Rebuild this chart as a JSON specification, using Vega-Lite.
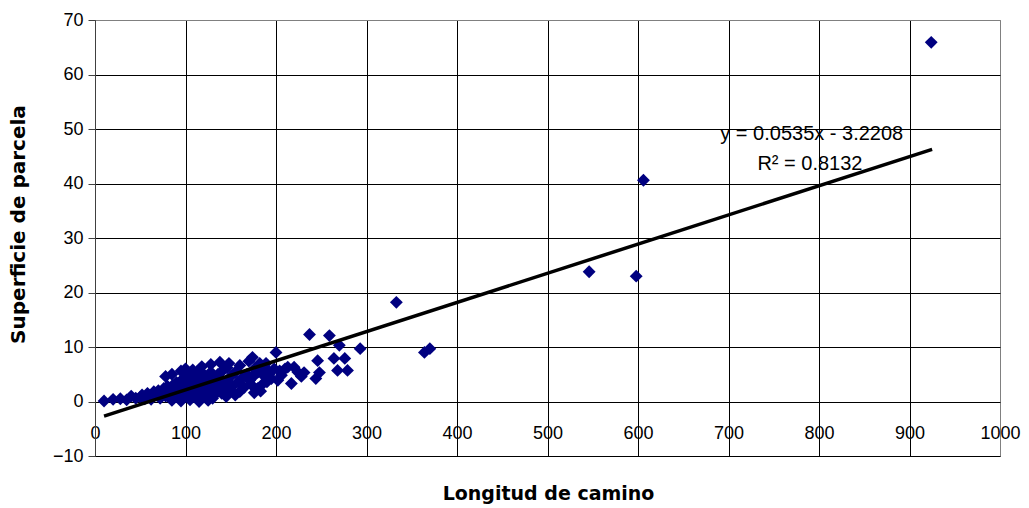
{
  "$schema": "https://vega.github.io/schema/vega-lite/v6.json",
  "width": 905,
  "height": 436,
  "autosize": "none",
  "padding": {"left": 95, "top": 20, "right": 29, "bottom": 52},
  "background": "white",
  "config": {
    "view": {"stroke": "#808080", "strokeWidth": 1},
    "font": "Liberation Sans",
    "axis": {"gridColor": "black", "gridOpacity": 1, "gridWidth": 1, "labelFont": "Liberation Sans", "titleFont": "DejaVu Sans", "labelColor": "black", "titleColor": "black", "labelFontSize": 18, "titleFontSize": 18, "titleFontWeight": "bold"}
  },
  "datasets": {
    "pts": [
      {"x":10,"y":0.1},{"x":20,"y":0.4},{"x":28,"y":0.5},{"x":35,"y":0.3},{"x":40,"y":1.0},{"x":45,"y":0.6},{"x":50,"y":0.8},{"x":52,"y":1.2},{"x":55,"y":0.5},{"x":58,"y":1.5},{"x":60,"y":1.0},{"x":62,"y":0.4},{"x":65,"y":1.8},{"x":68,"y":1.2},{"x":70,"y":2.0},{"x":72,"y":0.6},{"x":74,"y":1.5},{"x":76,"y":2.4},{"x":78,"y":1.0},{"x":78,"y":4.6},{"x":80,"y":2.8},{"x":82,"y":1.6},{"x":84,"y":0.8},{"x":85,"y":5.0},{"x":85,"y":0.2},{"x":86,"y":3.0},{"x":88,"y":2.2},{"x":90,"y":3.5},{"x":90,"y":1.2},{"x":92,"y":2.6},{"x":94,"y":0.9},{"x":95,"y":3.8},{"x":95,"y":5.6},{"x":95,"y":0.1},{"x":96,"y":2.0},{"x":98,"y":4.2},{"x":100,"y":1.5},{"x":100,"y":3.0},{"x":100,"y":6.0},{"x":102,"y":4.8},{"x":103,"y":0.8},{"x":104,"y":2.4},{"x":105,"y":5.2},{"x":105,"y":0.3},{"x":106,"y":3.6},{"x":108,"y":1.8},{"x":108,"y":5.8},{"x":110,"y":4.5},{"x":110,"y":1.0},{"x":112,"y":2.8},{"x":114,"y":5.5},{"x":115,"y":3.4},{"x":115,"y":0.0},{"x":116,"y":1.4},{"x":118,"y":4.0},{"x":118,"y":6.4},{"x":120,"y":2.2},{"x":120,"y":5.0},{"x":122,"y":0.8},{"x":124,"y":3.2},{"x":125,"y":4.6},{"x":125,"y":0.2},{"x":126,"y":1.6},{"x":128,"y":5.4},{"x":128,"y":6.8},{"x":130,"y":2.6},{"x":130,"y":3.8},{"x":130,"y":0.6},{"x":132,"y":1.2},{"x":134,"y":4.4},{"x":135,"y":2.0},{"x":136,"y":5.0},{"x":138,"y":3.0},{"x":138,"y":7.2},{"x":140,"y":1.5},{"x":140,"y":4.0},{"x":142,"y":5.8},{"x":144,"y":2.4},{"x":145,"y":3.6},{"x":145,"y":0.9},{"x":146,"y":6.2},{"x":148,"y":1.8},{"x":148,"y":7.0},{"x":150,"y":4.6},{"x":152,"y":2.8},{"x":155,"y":5.4},{"x":155,"y":1.2},{"x":158,"y":3.6},{"x":160,"y":6.6},{"x":160,"y":1.8},{"x":162,"y":4.2},{"x":165,"y":2.6},{"x":168,"y":5.0},{"x":170,"y":7.4},{"x":171,"y":3.9},{"x":172,"y":3.2},{"x":174,"y":8.1},{"x":175,"y":4.6},{"x":176,"y":6.0},{"x":176,"y":1.6},{"x":178,"y":2.2},{"x":180,"y":5.4},{"x":180,"y":2.4},{"x":182,"y":7.0},{"x":183,"y":1.9},{"x":184,"y":3.0},{"x":186,"y":4.8},{"x":188,"y":6.2},{"x":189,"y":7.0},{"x":190,"y":3.6},{"x":192,"y":5.0},{"x":195,"y":4.2},{"x":198,"y":6.0},{"x":200,"y":9.0},{"x":202,"y":3.9},{"x":204,"y":5.6},{"x":206,"y":4.8},{"x":210,"y":6.0},{"x":213,"y":6.3},{"x":217,"y":3.3},{"x":220,"y":6.3},{"x":224,"y":5.4},{"x":228,"y":4.6},{"x":231,"y":5.3},{"x":237,"y":12.3},{"x":244,"y":4.2},{"x":246,"y":7.5},{"x":248,"y":5.3},{"x":259,"y":12.1},{"x":264,"y":7.9},{"x":268,"y":5.7},{"x":270,"y":10.3},{"x":276,"y":7.9},{"x":279,"y":5.7},{"x":293,"y":9.7},{"x":333,"y":18.2},{"x":364,"y":9.0},{"x":370,"y":9.7},{"x":546,"y":23.8},{"x":598,"y":23.0},{"x":606,"y":40.6},{"x":924,"y":65.9}
    ],
    "trend": [{"x":10,"y":-2.6858},{"x":925,"y":46.2667}],
    "labels": [{"x":792,"y":49.0,"t":"y = 0.0535x - 3.2208"},{"x":790,"y":43.5,"t":"R² = 0.8132"}]
  },
  "layer": [
    {
      "data": {"name": "pts"},
      "mark": {"type": "point", "shape": "diamond", "filled": true, "color": "#000080", "size": 165, "opacity": 1},
      "encoding": {
        "x": {"field": "x", "type": "quantitative", "scale": {"domain": [0, 1000], "nice": false},
          "axis": {"values": [0,100,200,300,400,500,600,700,800,900,1000], "format": "d", "title": "Longitud de camino", "titleFontSize": 19, "domain": false, "ticks": false, "labelPadding": -32, "labelFlush": false, "titleX": 453, "titleY": 37, "titleBaseline": "middle",
            "gridColor": {"condition": {"test": "datum.value == 1000", "value": "#808080"}, "value": "black"}}},
        "y": {"field": "y", "type": "quantitative", "scale": {"domain": [-10, 70], "nice": false, "zero": false},
          "axis": {"values": [-10,0,10,20,30,40,50,60,70], "title": "Superficie de parcela", "titleFontSize": 20, "domain": true, "domainColor": "#404040", "tickColor": "#404040", "tickSize": 7, "labelPadding": 5, "titleX": -77, "titleY": 204, "titleBaseline": "middle", "titleAngle": -90,
            "gridColor": {"condition": {"test": "datum.value == 70", "value": "#808080"}, "value": "black"}}}
      }
    },
    {
      "data": {"name": "trend"},
      "mark": {"type": "line", "color": "black", "strokeWidth": 3.5},
      "encoding": {"x": {"field": "x", "type": "quantitative"}, "y": {"field": "y", "type": "quantitative"}}
    },
    {
      "data": {"name": "labels"},
      "mark": {"type": "text", "fontSize": 20, "color": "black", "align": "center", "baseline": "middle"},
      "encoding": {"x": {"field": "x", "type": "quantitative"}, "y": {"field": "y", "type": "quantitative"}, "text": {"field": "t"}}
    }
  ]
}
